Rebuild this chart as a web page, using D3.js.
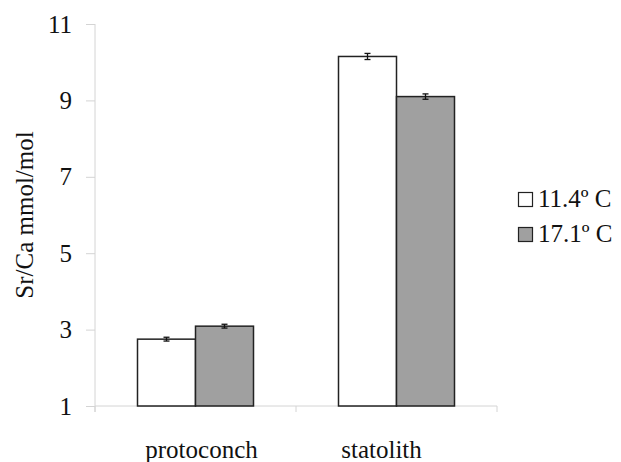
<!DOCTYPE html>
<html><head><meta charset="utf-8">
<script src="https://cdn.jsdelivr.net/npm/d3@7"></script>
<style>body{margin:0;background:#fff}svg{display:block}
svg text{font-family:"Liberation Serif","Tinos","Times New Roman","DejaVu Serif","Noto Serif","Nimbus Roman","FreeSerif",serif;}</style>
</head><body>
<svg id="c" width="621" height="462"></svg>
<script>
const categories = ["protoconch", "statolith"];
const series = ["11.4º C", "17.1º C"];
const values = [[2.75, 10.15], [3.09, 9.10]];
const errors = [[0.05, 0.08], [0.05, 0.07]];
const yTicks = [1, 3, 5, 7, 9, 11];
const colors = ["#ffffff", "#a0a0a0"];
const labelOffsets = [6, -15];

const svg = d3.select("#c");
const m = {l: 95, r: 124, t: 24, b: 56};
const x = d3.scaleBand().domain(categories).range([m.l, 497]);
const xs = d3.scaleBand().domain(series).range([0, 116]);
const y = d3.scaleLinear().domain([1, 11]).range([406, 24]);
const axisCol = "#d4d4d4";

// y axis
const ya = svg.append("g").attr("transform", `translate(${m.l},0)`)
  .call(d3.axisLeft(y).tickValues(yTicks).tickSize(9).tickPadding(14));
ya.attr("font-family", null).attr("font-size", null);
ya.select(".domain").attr("stroke", axisCol).attr("d", `M0,${y(11)}V${y(1)+6}`);
ya.selectAll(".tick line").attr("stroke", axisCol);
ya.selectAll(".tick text").style("font-size", "25px").attr("fill", "#111");

// x axis
const xa = svg.append("g").attr("transform", `translate(0,${y(1)})`);
xa.append("line").attr("x1", x.range()[0]).attr("x2", x.range()[1]).attr("stroke", axisCol);
const bounds = [x(categories[0]), ...categories.map(c => x(c) + x.bandwidth())];
xa.selectAll("line.tk").data(bounds).join("line").attr("class", "tk")
  .attr("x1", d => d).attr("x2", d => d).attr("y1", 0).attr("y2", 6).attr("stroke", axisCol);
xa.selectAll("text").data(categories).join("text")
  .attr("x", (d, i) => x(d) + x.bandwidth() / 2 + labelOffsets[i]).attr("y", 52)
  .attr("text-anchor", "middle").style("font-size", "25px").attr("fill", "#111")
  .text(d => d);

// bars
const off = (x.bandwidth() - 116) / 2;
series.forEach((s, si) => {
  categories.forEach((c, ci) => {
    const v = values[si][ci], e = errors[si][ci];
    const bx = x(c) + off + xs(s);
    svg.append("rect").attr("x", bx).attr("y", y(v)).attr("width", xs.bandwidth())
      .attr("height", y(1) - y(v)).attr("fill", colors[si]).attr("stroke", "#222").attr("stroke-width", 1.5);
    const cx = bx + xs.bandwidth() / 2;
    const g = svg.append("g").attr("stroke", "#111").attr("stroke-width", 1.3);
    g.append("line").attr("x1", cx).attr("x2", cx).attr("y1", y(v + e)).attr("y2", y(v - e));
    g.append("line").attr("x1", cx - 3).attr("x2", cx + 3).attr("y1", y(v + e)).attr("y2", y(v + e));
    g.append("line").attr("x1", cx - 3).attr("x2", cx + 3).attr("y1", y(v - e)).attr("y2", y(v - e));
  });
});

// y label
svg.append("text").attr("transform", "translate(33,215) rotate(-90)")
  .attr("text-anchor", "middle").style("font-size", "25px").attr("fill", "#111")
  .text("Sr/Ca mmol/mol");

// legend
const lg = svg.append("g").attr("transform", "translate(518,192)");
series.forEach((s, i) => {
  lg.append("rect").attr("x", 0.5).attr("y", i * 35 + 0.5).attr("width", 14).attr("height", 14)
    .attr("fill", colors[i]).attr("stroke", "#222").attr("stroke-width", 1.2);
  lg.append("text").attr("x", 20).attr("y", i * 35 + 15)
    .style("font-size", "25px").attr("fill", "#111").text(s);
});
</script>
</body></html>
